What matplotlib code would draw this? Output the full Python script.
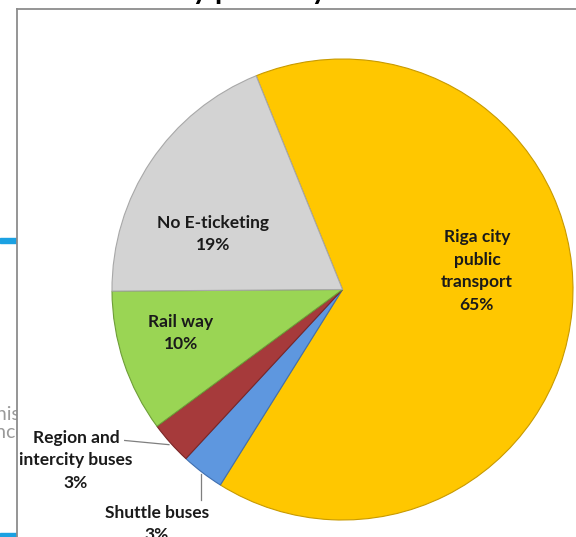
import matplotlib
matplotlib.use("Agg")
import numpy as np
import matplotlib.pyplot as plt

# data, clockwise from the top-left edge of the big slice
labels = ["Riga city\npublic\ntransport", "Shuttle buses",
          "Region and\nintercity buses", "Rail way", "No E-ticketing"]
shares = [65, 3, 3, 10, 19]
colors = ["#FFC700", "#5E97DF", "#A63A3B", "#9AD554", "#D3D3D3"]
edges = ["#C89A00", "#3F6FB0", "#7A2627", "#6E9E38", "#A8A8A8"]

plt.rcParams["font.family"] = ["Lato", "DejaVu Sans"]

W, H = 576, 537
fig = plt.figure(figsize=(W / 100, H / 100), dpi=100)

# slide bits peeking out behind the chart frame
fig.text(21 / W, 1 - 414 / H, "this", ha="right", va="center", fontsize=14,
         color="#9a9a9a", zorder=-2)
fig.text(26 / W, 1 - 433 / H, "once", ha="right", va="center", fontsize=14,
         color="#9a9a9a", zorder=-2)
fig.patches.append(plt.Rectangle((0, 1 - 243 / H), 17 / W, 5 / H,
                                 transform=fig.transFigure, color="#1BA1E2", zorder=-3))
fig.patches.append(plt.Rectangle((0, 0), 17 / W, 4 / H,
                                 transform=fig.transFigure, color="#1BA1E2", zorder=-3))
# slide title, only the descenders show
fig.text(176 / W, 1 + 1 / H, "by publicity", ha="left", va="baseline",
         fontsize=21, fontweight="bold", color="black")

# chart frame
frame = fig.add_axes([17 / W, -0.05, 1.0, 1.05 - 9 / H])
frame.set_facecolor("white")
frame.set_xticks([])
frame.set_yticks([])
for side in ["right", "bottom"]:
    frame.spines[side].set_visible(False)
for side in ["left", "top"]:
    frame.spines[side].set_color("#8c8c8c")
    frame.spines[side].set_linewidth(1.3)

# pie axes, centre (342.5, 289.5) px, radius 230.5 px
cx, cy, r = 342.5, 289.5, 230.5
ax = fig.add_axes([(cx - r) / W, (H - cy - r) / H, 2 * r / W, 2 * r / H])
wedges, _ = ax.pie(shares, colors=colors, startangle=112, counterclock=False,
                   radius=1.0, wedgeprops=dict(linewidth=0.8))
for w, ec in zip(wedges, edges):
    w.set_edgecolor(ec)
ax.set_xlim(-1, 1)
ax.set_ylim(-1, 1)
ax.set_aspect("equal")
ax.axis("off")

txt = dict(ha="center", va="center", fontsize=12.5, fontweight="bold",
           color="#1a1a1a", linespacing=1.5, clip_on=False)
pct = [f"{s}%" for s in shares]

# inside labels
ax.text(0.583, 0.080, f"{labels[0]}\n{pct[0]}", **txt)
ax.text(-0.562, 0.241, f"{labels[4]}\n{pct[4]}", **txt)
ax.text(-0.701, -0.189, f"{labels[3]}\n{pct[3]}", **txt)

# outside labels with leader lines from the wedge mid-angle
def mid(w):
    a = np.deg2rad((w.theta1 + w.theta2) / 2)
    return np.cos(a), np.sin(a)

mx, my = mid(wedges[2])
ax.plot([mx * 1.01, -0.945], [my * 1.01, -0.655], color="#7f7f7f", lw=0.9, clip_on=False)
ax.text(-1.156, -0.740, f"{labels[2]}\n{pct[2]}", **txt)

mx, my = mid(wedges[1])
ax.plot([mx * 1.01, mx * 1.01], [my * 1.01, -0.912], color="#7f7f7f", lw=0.9, clip_on=False)
ax.text(-0.805, -1.017, f"{labels[1]}\n{pct[1]}", **txt)

fig.savefig("out.png", dpi=100)
